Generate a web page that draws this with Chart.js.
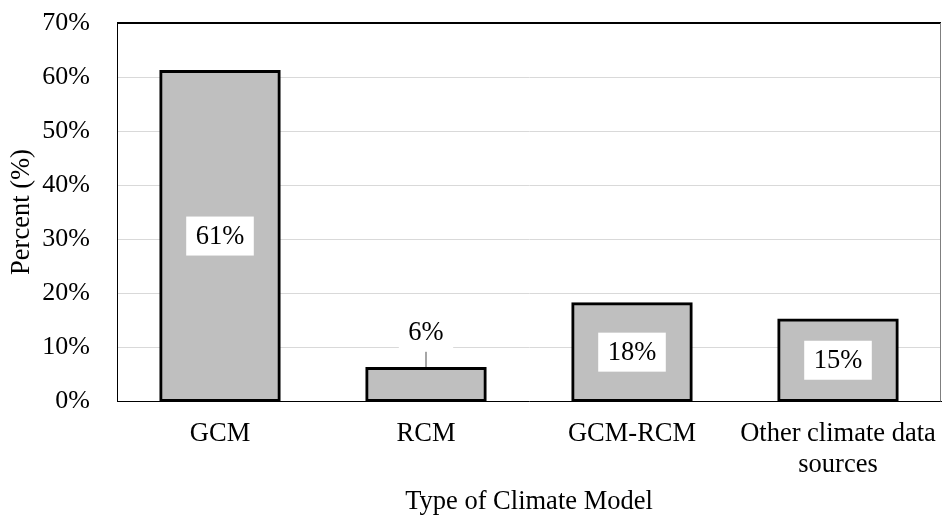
<!DOCTYPE html>
<html>
<head>
<meta charset="utf-8">
<script src="https://cdn.jsdelivr.net/npm/chart.js@4/dist/chart.umd.min.js"></script>
<style>
  html, body { margin: 0; padding: 0; background: #ffffff; }
  #wrap { width: 942px; height: 518px; }
</style>
</head>
<body>
<div id="wrap"><canvas id="chart" width="942" height="518"></canvas></div>
<script>
// Share of studies by type of climate model
const categories = ['GCM', 'RCM', 'GCM-RCM', ['Other climate data', 'sources']];
const percents = [61, 6, 18, 15];
const yTickValues = [0, 10, 20, 30, 40, 50, 60, 70];

const FONT = "'Liberation Serif', 'Times New Roman', serif";
const TICK_SIZE = 26;
const TEXT_SIZE = 26.5;

// Frame around the plotting area
const plotFrame = {
  id: 'plotFrame',
  beforeDatasetsDraw(chart) {
    const { ctx, chartArea: a } = chart;
    const l = Math.round(a.left) + 0.5, r = Math.round(a.right) - 0.5;
    const t = Math.round(a.top), b = Math.round(a.bottom) + 0.5;
    ctx.save();
    ctx.strokeStyle = '#000000';
    ctx.lineWidth = 2;
    ctx.beginPath();
    ctx.moveTo(l - 0.5, t);
    ctx.lineTo(r + 0.5, t);
    ctx.stroke();
    ctx.lineWidth = 1;
    ctx.strokeStyle = '#7f7f7f';
    ctx.beginPath();
    ctx.moveTo(r, t);
    ctx.lineTo(r, b);
    ctx.stroke();
    ctx.strokeStyle = '#000000';
    ctx.beginPath();
    ctx.moveTo(l, t);
    ctx.lineTo(l, b);
    ctx.stroke();
    ctx.restore();
  }
};

// Boxed value labels; a label that does not fit inside its bar sits above it with a leader line
const valueLabels = {
  id: 'valueLabels',
  afterDatasetsDraw(chart) {
    const { ctx } = chart;
    const meta = chart.getDatasetMeta(0);
    const values = chart.data.datasets[0].data;
    ctx.save();
    ctx.font = TEXT_SIZE + 'px ' + FONT;
    ctx.textAlign = 'center';
    ctx.textBaseline = 'middle';
    meta.data.forEach((bar, i) => {
      const text = values[i] + '%';
      const w = ctx.measureText(text).width + 19;
      const h = 39;
      const barH = bar.base - bar.y;
      let cy;
      if (barH >= h + 8) {
        cy = (bar.y + bar.base) / 2;
      } else {
        const gap = 17;
        cy = bar.y - gap - h / 2;
        ctx.strokeStyle = '#a6a6a6';
        ctx.lineWidth = 2;
        ctx.beginPath();
        ctx.moveTo(bar.x, bar.y - 1.5);
        ctx.lineTo(bar.x, bar.y - gap);
        ctx.stroke();
      }
      ctx.fillStyle = '#ffffff';
      ctx.fillRect(bar.x - w / 2, cy - h / 2, w, h);
      ctx.fillStyle = '#000000';
      ctx.fillText(text, bar.x, cy + 1);
    });
    ctx.restore();
  }
};

new Chart(document.getElementById('chart'), {
  type: 'bar',
  data: {
    labels: categories,
    datasets: [{
      data: percents,
      backgroundColor: '#bfbfbf',
      borderColor: '#000000',
      borderWidth: 3,
      borderSkipped: false,
      inflateAmount: 1.5,
      categoryPercentage: 1,
      barPercentage: 0.575
    }]
  },
  options: {
    responsive: false,
    animation: false,
    devicePixelRatio: 1,
    layout: { padding: { top: 23, right: 1, left: 0, bottom: 0 } },
    plugins: {
      legend: { display: false },
      tooltip: { enabled: false }
    },
    scales: {
      x: {
        grid: { display: false, drawTicks: false },
        border: { display: true, color: '#000000', width: 1 },
        ticks: {
          color: '#000000',
          font: { family: FONT, size: TEXT_SIZE, lineHeight: 1.15 },
          padding: 18,
          maxRotation: 0,
          autoSkip: false
        },
        title: {
          display: true,
          text: 'Type of Climate Model',
          color: '#000000',
          font: { family: FONT, size: TEXT_SIZE },
          padding: { top: 0, bottom: 0 }
        },
        afterFit(scale) {
          scale.height = 117;
          scale.paddingLeft = 0;
          scale.paddingRight = 0;
        }
      },
      y: {
        min: 0,
        max: 70,
        afterBuildTicks(scale) { scale.ticks = yTickValues.map(v => ({ value: v })); },
        grid: { color: '#d9d9d9', lineWidth: 1, drawTicks: false },
        border: { display: true, color: '#000000', width: 1 },
        ticks: {
          color: '#000000',
          font: { family: FONT, size: TICK_SIZE },
          padding: 27,
          callback: v => v + '%'
        },
        title: {
          display: true,
          text: 'Percent (%)',
          color: '#000000',
          font: { family: FONT, size: TEXT_SIZE },
          padding: { top: 6, bottom: 0 }
        },
        afterFit(scale) {
          scale.width = 117;
          scale.paddingTop = 0;
          scale.paddingBottom = 0;
        }
      }
    }
  },
  plugins: [plotFrame, valueLabels]
});
</script>
</body>
</html>
